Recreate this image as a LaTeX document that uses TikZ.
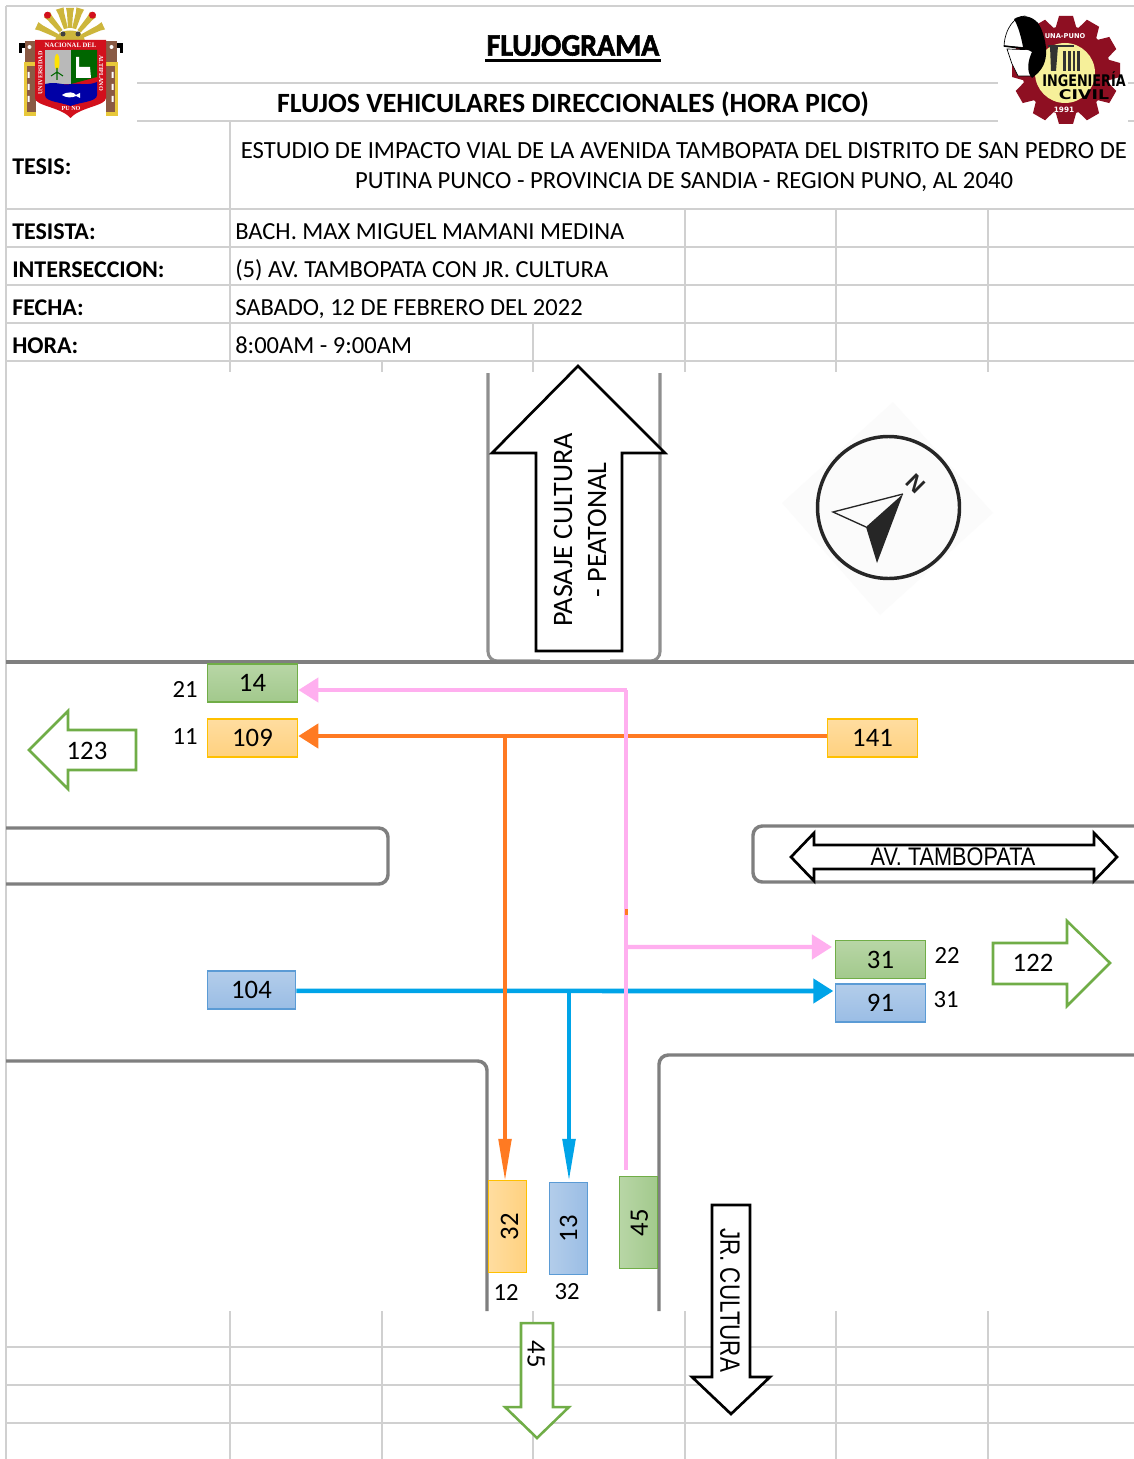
\documentclass[tikz,border=0pt]{standalone}
\usepackage{fontspec}
\setmainfont{Carlito}
\newfontfamily\arialfont{Liberation Sans}
\newfontfamily\logofont{DejaVu Sans}
\newfontfamily\crestfont{Liberation Serif}
\newfontfamily\titlefont[BoldFeatures={FakeBold=2}]{Carlito}
\usetikzlibrary{arrows.meta,calc}
\definecolor{gridc}{HTML}{D0D0D0}
\definecolor{roadc}{HTML}{7F7F7F}
\definecolor{roadv}{HTML}{8F8F8F}
\definecolor{greenb}{HTML}{70AD47}
\definecolor{pinkc}{HTML}{FFAFEF}
\definecolor{orangec}{HTML}{FF7A22}
\definecolor{bluec}{HTML}{00A4E8}
\definecolor{gearred}{HTML}{8E0F22}
\definecolor{crestred}{HTML}{D2101C}
\definecolor{rayc}{HTML}{CDB63C}
\definecolor{pillary}{HTML}{E8C83A}
\definecolor{pillarb}{HTML}{8A5A44}
\definecolor{gtop}{HTML}{B8D6A6}
\definecolor{gbot}{HTML}{A2C98C}
\definecolor{otop}{HTML}{FFDDA0}
\definecolor{obot}{HTML}{FFD17F}
\definecolor{oline}{HTML}{FFC000}
\definecolor{btop}{HTML}{B3CDEA}
\definecolor{bbot}{HTML}{9ABDE5}
\definecolor{bline}{HTML}{5B9BD5}
\definecolor{yellowin}{HTML}{F6F09A}
\tikzset{
  x=0.75pt,y=-0.75pt,
  gridline/.style={draw=gridc,line width=1.5pt},
  road/.style={draw=roadc,line width=2.6pt,rounded corners=7pt},
  roadside/.style={draw=roadv,line width=2.3pt,rounded corners=7pt},
  flowbox/.style={inner sep=0pt,minimum width=68pt,minimum height=28.5pt,font=\fontsize{20}{22}\selectfont,line width=0.8pt},
  vbox/.style={inner sep=0pt,minimum width=29pt,minimum height=68.5pt,font=\fontsize{20}{22}\selectfont,line width=0.8pt},
  boxg/.style={flowbox,draw=greenb,top color=gtop,bottom color=gbot},
  boxo/.style={flowbox,draw=oline,top color=otop,bottom color=obot},
  boxb/.style={flowbox,draw=bline,top color=btop,bottom color=bbot},
  vboxg/.style={vbox,draw=greenb,left color=gtop,right color=gbot},
  vboxo/.style={vbox,draw=oline,left color=otop,right color=obot},
  vboxb/.style={vbox,draw=bline,left color=btop,right color=bbot},
  cnt/.style={inner sep=0pt,font=\fontsize{18.5}{20}\selectfont},
  big/.style={inner sep=0pt,font=\fontsize{20}{22}\selectfont},
  bigarrow/.style={draw=black,line width=2pt,fill=white,line join=miter},
  grarrow/.style={draw=greenb,line width=1.9pt,fill=white,line join=miter},
  cell/.style={inner sep=0pt,anchor=base west,font=\fontsize{18.4}{20}\selectfont},
  bcell/.style={inner sep=0pt,anchor=base west,font=\fontsize{18}{20}\selectfont\bfseries},
  hflowhead/.style={-{Triangle[length=15pt,width=18pt]}},
  vflowhead/.style={-{Triangle[length=31pt,width=9.5pt]}},
}
\begin{document}
\begin{tikzpicture}
\useasboundingbox (0,0) rectangle (1134,1459);
\fill[white] (0,0) rectangle (1134,1459);

% spreadsheet grid
\draw[gridline] (6,6) -- (1134,6);
\draw[draw=gridc,line width=1pt] (6,6) -- (6,1459);
\foreach \yy in {83,121} { \draw[gridline] (137,\yy) -- (998,\yy); \draw[gridline] (1128,\yy) -- (1134,\yy); }
\foreach \yy in {209,247,285,323,361} \draw[gridline] (6,\yy) -- (1134,\yy);
\draw[gridline] (230,121) -- (230,372);
\foreach \xx in {685,836,988} \draw[gridline] (\xx,209) -- (\xx,372);
\draw[gridline] (533,323) -- (533,372);
\draw[gridline] (382,361) -- (382,372);
\foreach \yy in {1347,1385,1423} \draw[gridline] (6,\yy) -- (1134,\yy);
\foreach \xx in {230,382,533,685,836,988} \draw[gridline] (\xx,1311) -- (\xx,1459);

% header texts
\node[inner sep=0pt,font=\fontsize{23.3}{25}\selectfont\titlefont\bfseries] (title) at (573,45.5) {\scalebox{0.96}[1]{FLUJOGRAMA}};
\draw[black,line width=1.6pt] (485,60.5) -- (661,60.5);
\node[inner sep=0pt,font=\fontsize{20.9}{22}\selectfont\bfseries] (subtitle) at (573,104) {FLUJOS VEHICULARES DIRECCIONALES (HORA PICO)};
\node[bcell] (tesisl) at (12,175) {TESIS:};
\node[inner sep=0pt,font=\fontsize{18.5}{20}\selectfont] (tesis1) at (684,150.5) {ESTUDIO DE IMPACTO VIAL DE LA AVENIDA TAMBOPATA DEL DISTRITO DE SAN PEDRO DE};
\node[inner sep=0pt,font=\fontsize{18.5}{20}\selectfont] (tesis2) at (684,182.5) {PUTINA PUNCO - PROVINCIA DE SANDIA - REGION PUNO, AL 2040};
\node[bcell] (l1) at (12,239) {TESISTA:};
\node[bcell] (l2) at (12,277) {INTERSECCION:};
\node[bcell] (l3) at (12,315) {FECHA:};
\node[bcell] (l4) at (12,353) {HORA:};
\node[cell] (v1) at (235,239) {BACH. MAX MIGUEL MAMANI MEDINA};
\node[cell] (v2) at (235,277) {(5) AV. TAMBOPATA CON JR. CULTURA};
\node[cell] (v3) at (235,315) {SABADO, 12 DE FEBRERO DEL 2022};
\node[cell] (v4) at (235,353) {8:00AM - 9:00AM};

% UNA crest
\foreach \aa/\ll in {0/34,-17/35,17/35,-40/36,40/36,-64/37,64/37}
  \fill[rayc,rotate around={\aa:(70,42)}] (66,42-\ll) -- (74,42-\ll) -- (73,42-\ll+5) -- (72,28) -- (68,28) -- (67,42-\ll+5) -- cycle;
\fill[crestred,rotate around={-40:(70,42)}] (70,42-35) circle (3.5);
\fill[crestred,rotate around={40:(70,42)}] (70,42-35) circle (3.5);
\fill[rayc] (55,41) .. controls (55,27) and (85,27) .. (85,41) -- cycle;
\fill[black!75] (63,34) circle (2.5) (78,34) circle (2.5);
\foreach \s in {-1,1} {
  \fill[pillary] ({70.5+\s*35},62) rectangle ({70.5+\s*47},116);
  \fill[pillarb] ({70.5+\s*35},66) rectangle ({70.5+\s*44},112);
  \fill[white] ({70.5+\s*41},72) rectangle ({70.5+\s*43},78) ({70.5+\s*41},84) rectangle ({70.5+\s*43},90) ({70.5+\s*41},96) rectangle ({70.5+\s*43},102);
  \fill[pillarb] ({70.5+\s*35},41) rectangle ({70.5+\s*46},62);
  \fill[pillary] ({70.5+\s*44},62) rectangle ({70.5+\s*47},66);
  \fill[black] ({70.5+\s*46},43) rectangle ({70.5+\s*52},53);
  \fill[white] ({70.5+\s*46},48) rectangle ({70.5+\s*49},53);
  \fill[white] ({70.5+\s*41},47) circle (2);
}
\fill[crestred] (35,40) -- (106,40) -- (106,98) .. controls (106,106) and (80,107) .. (70.5,118) .. controls (61,107) and (35,106) .. (35,98) -- cycle;
\fill[gray!55] (45,50) -- (71,50) -- (71,84) -- (45,84) -- cycle;
\fill[green!40!black] (71,50) -- (97,50) -- (97,77) -- (71,84) -- cycle;
\fill[blue!65!black] (45,84) .. controls (58,81) and (62,86) .. (71,84) .. controls (80,83) and (88,86) .. (97,82) -- (97,95) .. controls (97,102) and (80,102) .. (70.5,106) .. controls (61,102) and (45,102) .. (45,95) -- cycle;
\fill[yellow!85!orange] (57,62) ellipse (2.5 and 8);
\draw[green!40!black,line width=0.8pt] (57,68) -- (57,80) (51,76) -- (57,72) -- (63,76);
\fill[white] (76,57) -- (79,57) -- (79,67) -- (90,67) -- (91,78) -- (76,78) -- cycle;
\fill[white] (62,95) .. controls (68,91) and (74,92) .. (76,95) -- (80,93) -- (80,98) -- (76,96) .. controls (72,98) and (66,98) .. (62,95) -- cycle;
\node[inner sep=0pt,text=white,font=\fontsize{5}{6}\selectfont\bfseries\crestfont] (crest1) at (70.5,45) {NACIONAL DEL};
\node[inner sep=0pt,text=white,rotate=90,font=\fontsize{4.6}{5}\selectfont\bfseries\crestfont] (crest2) at (40.5,73) {UNIVERSIDAD};
\node[inner sep=0pt,text=white,rotate=-90,font=\fontsize{4.6}{5}\selectfont\bfseries\crestfont] (crest3) at (101,73) {ALTIPLANO};
\node[inner sep=0pt,text=white,font=\fontsize{4.6}{5}\selectfont\bfseries\crestfont] (crest4) at (71,109) {PU NO};

% Civil engineering gear
\foreach \aa in {0,30,...,330}
  \fill[gearred,rotate around={\aa:(1066,70)}] (1055,70-40) -- (1077,70-40) -- (1073,70-54) -- (1059,70-54) -- cycle;
\fill[gearred] (1066,70) circle (44);
\fill[yellowin] (1065,73) circle (30);
\draw[black!80,line width=1.1pt] (1048,46) -- (1074,46);
\fill[black!80] (1050,46) -- (1058,46) -- (1056,71) -- (1051,71) -- cycle;
\fill[black!80] (1063,51) rectangle (1080,71);
\draw[yellowin,line width=0.8pt] (1067,51) -- (1067,71) (1072,51) -- (1072,71) (1076,51) -- (1076,71);
\fill[white,draw=black,line width=0.5pt] (1004,46) .. controls (1005,28) and (1015,16) .. (1025,16) -- (1030,48) -- cycle;
\fill[white,draw=black,line width=0.5pt] (1007,49) -- (1012,64) -- (1018,76) -- (1032,76) -- (1038,50) -- cycle;
\fill[black] (1014,19) .. controls (1022,14) and (1032,16) .. (1038,23) .. controls (1043,30) and (1047,45) .. (1046,55) .. controls (1045,66) and (1040,72) .. (1032,78) .. controls (1026,72) and (1028,60) .. (1032,52) -- (1023,47) .. controls (1021,36) and (1018,26) .. (1014,19) -- cycle;
\draw[black,line width=1.2pt] (1004,46) -- (1044,51);
\node[inner sep=0pt,text=white,font=\fontsize{5}{6}\selectfont\bfseries\logofont] (una) at (1065,36) {UNA-PUNO};
\node[inner sep=0pt,font=\fontsize{12}{13}\selectfont\bfseries\logofont] (ing) at (1084,79.5) {\scalebox{0.8}[1]{INGENIERÍA}};
\node[inner sep=0pt,font=\fontsize{10}{11}\selectfont\bfseries\logofont] (civil) at (1084,95) {\scalebox{1.3}[1]{CIVIL}};
\node[inner sep=0pt,text=white,font=\fontsize{5.5}{6}\selectfont\bfseries\logofont] (y1991) at (1064,110) {1991};

% roads
\draw[roadside] (488,373) -- (488,661) -- (540,661);
\draw[roadside] (660,373) -- (660,661) -- (610,661);
\draw[draw=roadc,line width=2.6pt] (6,662) -- (1134,662);
\draw[road] (6,828) -- (388,828) -- (388,884) -- (6,884);
\draw[road] (1134,826) -- (753,826) -- (753,882) -- (1134,882);
\draw[road] (6,1061) -- (487,1061) -- (487,1311);
\draw[road] (659,1311) -- (659,1055) -- (1134,1055);

% compass
\fill[black!1.5] (893,402) -- (993,513) -- (880,615) -- (782,503) -- cycle;
\draw[black!85,line width=2.6pt] (888.5,507.5) circle (71);
\draw[black!85,line width=1pt,line join=miter] (903,494) -- (833,512) -- (866,527);
\fill[black!85] (903,494) -- (866,527) -- (877,563) -- cycle;
\node[inner sep=0pt,rotate=-45,text=black!85,font=\fontsize{17}{18}\selectfont\bfseries\arialfont] (north) at (916,484) {N};

% street name arrows
\draw[bigarrow] (578,366) -- (665,453) -- (622,453) -- (622,651) -- (536,651) -- (536,453) -- (492,453) -- cycle;
\node[inner sep=0pt,rotate=90,align=center,font=\fontsize{21.1}{25.5}\selectfont] (pasaje) at (580,530) {PASAJE CULTURA\\- PEATONAL};
\draw[bigarrow] (712,1205) -- (750,1205) -- (750,1377) -- (770,1377) -- (731,1414) -- (692,1377) -- (712,1377) -- cycle;
\node[inner sep=0pt,rotate=-90,font=\fontsize{21}{22}\selectfont\arialfont] (jr) at (730,1300) {\scalebox{0.8}[1]{JR. CULTURA}};
\draw[bigarrow] (791,857) -- (814,833) -- (814,845) -- (1094,845) -- (1094,833) -- (1117,857) -- (1094,881) -- (1094,869) -- (814,869) -- (814,881) -- cycle;
\node[inner sep=0pt,font=\fontsize{19}{20}\selectfont\arialfont] (av) at (953,857) {\scalebox{0.856}[1]{AV. TAMBOPATA}};

% flow boxes
\node[boxg] (b14) at (252.5,683) {\raisebox{-0.7pt}{14}};
\node[boxo] (b109) at (252.5,738) {109};
\node[boxo] (b141) at (872.5,738) {141};
\node[boxb,minimum width=66.5pt] (b104) at (251.5,990) {\raisebox{-0.7pt}{104}};
\node[boxg] (b31) at (880.5,959.5) {\raisebox{-0.7pt}{31}};
\node[boxb] (b91) at (880.5,1003) {\raisebox{-1.5pt}{91}};
\node[vboxo] (b32) at (507.5,1226.5) {\hspace*{3pt}\rotatebox{90}{32}};
\node[vboxb] (b13) at (568.5,1228.5) {\rotatebox{90}{13}};
\node[vboxg] (b45) at (638.5,1222.5) {\hspace*{1.5pt}\rotatebox{90}{45}};

% turning counts
\node[cnt] (n21) at (185,689) {21};
\node[cnt] (n11) at (185,737) {11};
\node[cnt] (n22) at (947,955) {22};
\node[cnt] (n31) at (946,1000) {31};
\node[cnt] (n12) at (506,1292) {12};
\node[cnt] (n32) at (567,1292) {32};

% total arrows
\draw[grarrow] (29,750) -- (68,711) -- (68,730) -- (136,730) -- (136,770) -- (68,770) -- (68,789) -- cycle;
\node[big] (t123) at (87,751) {123};
\draw[grarrow] (1110,963) -- (1067,921) -- (1067,943) -- (993,943) -- (993,984) -- (1067,984) -- (1067,1006) -- cycle;
\node[big] (t122) at (1033,963) {122};
\draw[grarrow] (521,1323) -- (553,1323) -- (553,1407) -- (569,1407) -- (537,1438) -- (505,1407) -- (521,1407) -- cycle;
\node[big,rotate=-90] (t45) at (536,1354) {45};

% connectors
\coordinate (bluej) at (569,991);
\coordinate (orangej) at (505,736);
\coordinate (pinkstart) at (626,1170);
\coordinate (pinkj) at (626,947);
\coordinate (pinkc1) at (626,690);
\draw[draw=bluec,line width=3.4pt,hflowhead] ([yshift=-0.7pt]b104.east) -- ([yshift=9pt,xshift=-1pt]b91.west);
\draw[draw=bluec,line width=2.5pt,vflowhead] (bluej) -- ([yshift=1.5pt]bluej |- b13.north);
\draw[draw=orangec,line width=3.4pt,hflowhead] ([yshift=1.5pt]b141.west) -- ([yshift=1.5pt]b109.east);
\draw[draw=orangec,line width=2.3pt,vflowhead] (orangej) -- (orangej |- b32.north);
\draw[draw=pinkc,line width=2.4pt] (pinkstart) -- (pinkc1);
\draw[draw=pinkc,line width=3.2pt,hflowhead] ([xshift=1pt]pinkc1) -- (pinkc1 -| b14.east);
\draw[draw=pinkc,line width=3.2pt,hflowhead] (pinkj) -- ([yshift=9.4pt,xshift=-2pt]b31.west);
\fill[orangec] (625,909) rectangle (627.5,915);
\end{tikzpicture}
\end{document}
